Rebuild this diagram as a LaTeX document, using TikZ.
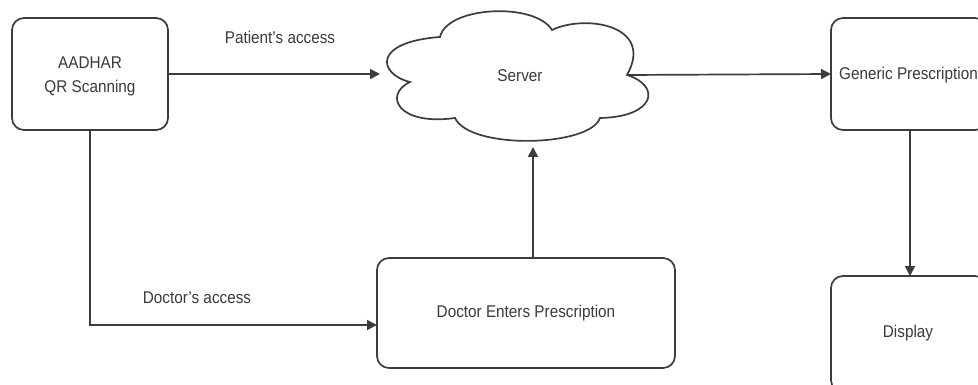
\documentclass[tikz,border=0pt]{standalone}
\usepackage{fontspec}
\setmainfont[FakeStretch=0.9]{Liberation Sans}
\usetikzlibrary{arrows.meta}
\definecolor{ln}{HTML}{3C3C3C}
\definecolor{tx}{HTML}{3A3A3A}
\tikzset{
  box/.style={draw=ln, line width=1.7pt, rounded corners=12pt, fill=white},
  lbl/.style={text=tx, font=\fontsize{17}{24}\selectfont, inner sep=0pt},
  conn/.style={draw=ln, line width=1.7pt, -{Triangle[length=10pt,width=10pt]}},
  plain/.style={draw=ln, line width=1.7pt}
}
\begin{document}
\begin{tikzpicture}[x=1pt,y=-1pt]
\path[use as bounding box, clip] (0,0) rectangle (978,385);
\fill[white] (0,0) rectangle (978,385);
% boxes
\draw[box] (12,18) rectangle (168,130);
\node[lbl, align=center] (aadhar) at (90,76) {AADHAR\\QR Scanning};
\coordinate (aR) at (168,74);
\coordinate (aB) at (90,130);
\draw[box] (377,258) rectangle (675,368);
\node[lbl] (doctor) at (526,313) {Doctor Enters Prescription};
\coordinate (dL) at (377,325);
\coordinate (dT) at (533,258);
\draw[box] (831,18) rectangle (987,130);
\node[lbl, anchor=west] (generic) at (839,75) {Generic Prescription};
\coordinate (gL) at (831,74);
\coordinate (gB) at (910,130);
\draw[box] (831,276) rectangle (987,392);
\node[lbl] (display) at (908,333) {Display};
\coordinate (pT) at (910,276);
% cloud
\draw[plain, fill=white] (410,82)
  .. controls (378,74) and (372,42) .. (440,37)
  .. controls (447,6) and (535,2) .. (552,30)
  .. controls (585,14) and (655,25) .. (627,75)
  .. controls (662,86) and (655,117) .. (600,118)
  .. controls (590,147) and (470,150) .. (455,118)
  .. controls (398,126) and (383,95) .. (410,82) -- cycle;
\node[lbl] (server) at (520,76) {Server};
\coordinate (sL) at (380,74);
\coordinate (sR) at (627,75);
\coordinate (sB) at (533,147);
% connectors
\draw[conn] (aR) -- (sL);
\node[lbl] (pa) at (280,37) {Patient's access};
\draw[conn] (sR) -- (gL);
\draw[conn] (dT) -- (sB);
\draw[conn] (aB) |- (dL);
\node[lbl] (da) at (197,298) {Doctor's access};
\draw[conn] (gB) -- (pT);
\end{tikzpicture}
\end{document}
